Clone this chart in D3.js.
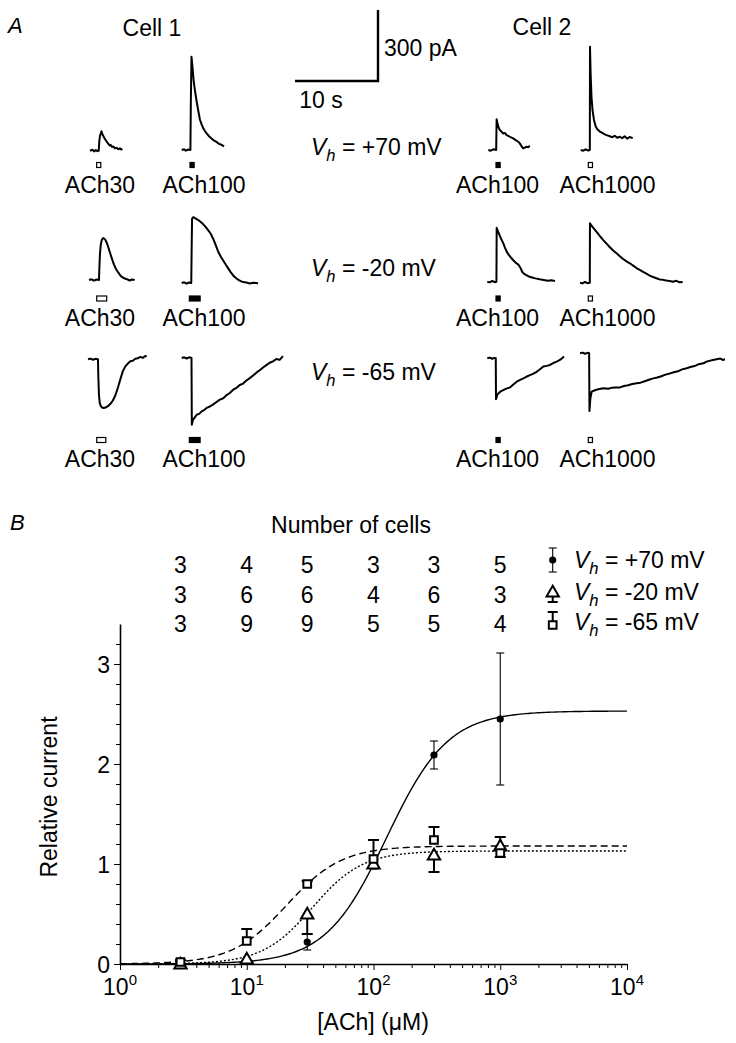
<!DOCTYPE html>
<html>
<head>
<meta charset="utf-8">
<script src="https://cdn.jsdelivr.net/npm/d3@7"></script>
<style>
  body { margin: 0; background: #fff; }
  text { font-family: "Liberation Sans", Arial, sans-serif; fill: #000; }
</style>
</head>
<body>
<svg id="fig" width="736" height="1043"></svg>
<script>
// ---------- panel A: current traces, [time (s), current (pA)] ----------
const c1r1a = [[0,0],[0.3,4],[0.5,-3],[0.7,3],[0.9,-2],[1.05,0],[1.12,40],[1.2,62],[1.3,72],[1.38,82],[1.5,70],[1.6,62],[1.75,52],[1.9,44],[2.05,36],[2.2,30],[2.35,22],[2.5,24],[2.65,16],[2.8,18],[3.0,10],[3.2,12],[3.4,6],[3.6,10],[3.75,5],[3.9,8]];
const c1r1b = [[0,0],[0.3,3],[0.5,-3],[0.8,2],[1.05,0],[1.1,200],[1.18,394],[1.3,350],[1.45,290],[1.6,250],[1.8,205],[2.0,165],[2.2,128],[2.4,108],[2.6,92],[2.8,80],[3.0,70],[3.3,58],[3.6,48],[3.9,40],[4.2,34],[4.5,26],[4.8,22],[5.1,15]];
const c1r2a = [[0,0],[0.3,3],[0.6,-3],[0.9,2],[1.2,0],[1.26,60],[1.32,110],[1.42,150],[1.55,170],[1.7,177],[1.85,175],[2.0,168],[2.2,152],[2.4,130],[2.6,108],[2.8,86],[3.0,66],[3.2,50],[3.4,38],[3.6,28],[3.8,18],[4.0,12],[4.3,6],[4.6,3],[4.9,-2],[5.2,2],[5.5,0]];
const c1r2b = [[0,0],[0.3,3],[0.6,-3],[0.9,2],[1.15,0],[1.2,150],[1.25,272],[1.4,278],[1.7,272],[2.0,266],[2.3,258],[2.6,248],[2.9,236],[3.2,222],[3.5,208],[3.8,186],[4.1,160],[4.4,132],[4.7,112],[5.0,95],[5.3,78],[5.6,62],[5.9,46],[6.2,32],[6.5,22],[6.8,14],[7.1,8],[7.4,4],[7.8,2],[8.2,-2],[8.6,1],[9.2,-1]];
const c1r3a = [[0,0],[0.3,3],[0.6,-2],[0.9,2],[1.2,0],[1.25,-80],[1.32,-150],[1.42,-185],[1.55,-198],[1.7,-204],[1.9,-206],[2.1,-204],[2.4,-198],[2.7,-188],[3.0,-174],[3.3,-152],[3.6,-120],[3.9,-84],[4.2,-50],[4.5,-30],[4.8,-18],[5.1,-8],[5.4,-6],[5.7,2],[6.0,4],[6.3,10],[6.6,6],[6.9,14],[7.07,12]];
const c1r3b = [[0,0],[0.3,3],[0.6,-2],[0.9,3],[1.18,0],[1.22,-282],[1.35,-262],[1.6,-250],[1.8,-240],[2.1,-236],[2.4,-226],[2.7,-220],[3.0,-211],[3.4,-205],[3.8,-196],[4.2,-186],[4.6,-176],[5.0,-170],[5.4,-157],[5.8,-148],[6.2,-134],[6.6,-126],[7.0,-114],[7.4,-108],[7.8,-95],[8.2,-85],[8.6,-74],[9.0,-62],[9.4,-52],[9.8,-40],[10.2,-30],[10.6,-20],[11.0,-14],[11.4,-4],[11.8,-8],[12.2,8]];
const c2r1a = [[0,0],[0.3,-3],[0.6,3],[0.95,0],[1.0,130],[1.15,105],[1.3,90],[1.45,82],[1.6,77],[1.8,70],[2.0,72],[2.2,63],[2.4,60],[2.6,56],[2.8,52],[3.0,49],[3.2,44],[3.4,40],[3.6,35],[3.8,28],[4.0,16],[4.2,7],[4.4,10],[4.6,14],[4.8,12],[5.0,18]];
const c2r1b = [[0,0],[0.3,-3],[0.6,3],[0.9,-2],[1.1,0],[1.12,436],[1.2,320],[1.3,225],[1.42,170],[1.6,127],[1.8,100],[2.0,88],[2.3,78],[2.6,72],[2.9,66],[3.2,62],[3.5,58],[3.8,54],[4.1,60],[4.4,52],[4.7,56],[5.0,50],[5.3,58],[5.6,48],[5.9,55],[6.27,50]];
const c2r2a = [[0,0],[0.3,-3],[0.6,3],[0.9,-2],[1.1,0],[1.13,228],[1.3,212],[1.5,195],[1.7,178],[1.93,162],[2.15,142],[2.35,126],[2.55,115],[2.75,106],[3.0,96],[3.25,86],[3.5,78],[3.75,72],[4.0,58],[4.2,42],[4.4,34],[4.7,28],[5.0,22],[5.4,18],[5.8,14],[6.3,10],[6.8,7],[7.3,4],[7.7,6],[8.16,3]];
const c2r2b = [[0,0],[0.3,-3],[0.6,3],[0.9,-2],[1.18,0],[1.2,251],[1.6,232],[2.0,215],[2.4,197],[2.8,180],[3.2,165],[3.6,150],[4.0,136],[4.4,124],[4.8,112],[5.2,100],[5.6,90],[6.0,82],[6.4,72],[6.8,62],[7.2,54],[7.6,46],[8.0,38],[8.4,30],[8.8,24],[9.2,19],[9.6,14],[10.0,12],[10.4,9],[10.8,7],[11.2,4],[11.6,8],[12.0,2],[12.37,3]];
const c2r3a = [[0,0],[0.3,3],[0.6,-2],[0.85,2],[1.02,0],[1.05,-173],[1.2,-155],[1.35,-148],[1.6,-140],[1.93,-134],[2.3,-128],[2.73,-123],[3.1,-112],[3.54,-99],[3.9,-92],[4.34,-85],[4.7,-78],[5.14,-71],[5.5,-66],[5.95,-57],[6.35,-46],[6.75,-35],[7.15,-32],[7.55,-28],[7.95,-20],[8.36,-14],[8.8,-6],[9.24,8]];
const c2r3b = [[0,0],[0.3,3],[0.6,-2],[0.9,2],[1.1,0],[1.14,-244],[1.25,-190],[1.41,-162],[1.8,-156],[2.2,-152],[2.81,-148],[3.4,-150],[3.8,-146],[4.3,-145],[4.82,-144],[5.3,-138],[5.8,-135],[6.3,-130],[6.83,-127],[7.3,-124],[7.8,-118],[8.3,-112],[8.83,-106],[9.3,-102],[9.8,-97],[10.3,-90],[10.84,-85],[11.3,-80],[11.8,-76],[12.3,-68],[12.85,-63],[13.3,-58],[13.8,-54],[14.3,-46],[14.86,-42],[15.2,-36],[15.6,-32],[16.0,-28],[16.47,-25],[16.9,-22],[17.2,-28],[17.47,-25]];

const traces = [c1r1a, c1r1b, c1r2a, c1r2b, c1r3a, c1r3b, c2r1a, c2r1b, c2r2a, c2r2b, c2r3a, c2r3b];
const drugLabels = ["ACh30","ACh100","ACh30","ACh100","ACh30","ACh100","ACh100","ACh1000","ACh100","ACh1000","ACh100","ACh1000"];
// ACh application: start (s), duration (s), filled bar?
const stimStart = [0.8, 1.0, 0.93, 0.92, 1.05, 0.92, 0.93, 0.92, 1.05, 1.0, 1.05, 1.0];
const stimDur   = [0.5, 0.5, 1.2, 1.3, 1.1, 1.3, 0.5, 0.5, 0.5, 0.5, 0.5, 0.5];
const stimFill  = [false, true, false, true, false, true, true, false, true, false, true, false];
const traceRow  = [0, 0, 1, 1, 2, 2, 0, 0, 1, 1, 2, 2];
const vhValues  = ["+70", "-20", "-65"];
const cellNames = ["Cell 1", "Cell 2"];
const scaleBarSec = 10, scaleBarPA = 300;

// ---------- panel B: concentration-response ----------
const conc = [3, 10, 30, 100, 300, 1000];
const mean70 = [0.0, 0.03, 0.22, 1.0, 2.09, 2.45];
const err70  = [0.01, 0.02, 0.08, 0.05, 0.14, 0.66];
const mean20 = [0.0, 0.05, 0.50, 1.0, 1.09, 1.18];
const err20  = [0.01, 0.02, 0.20, 0.03, 0.17, 0.09];
const mean65 = [0.02, 0.23, 0.80, 1.05, 1.24, 1.11];
const err65  = [0.02, 0.12, 0.03, 0.19, 0.13, 0.04];
const n70 = [3, 4, 5, 3, 3, 5];
const n20 = [3, 6, 6, 4, 6, 3];
const n65 = [3, 9, 9, 5, 5, 4];
// Hill fits: Imax, EC50 (uM), Hill coefficient
const fitMax  = [2.53, 1.13, 1.18];
const fitEC50 = [127, 33, 20.7];
const fitHill = [1.8, 2.2, 2.0];
const xTickExp = [0, 1, 2, 3, 4];
const yTicks = [0, 1, 2, 3];

// ---------- layout ----------
const svg = d3.select("#fig");
const FS = 23;
const pxPerSec = 8.3, pxPerPA = 71 / 300;
const traceX0 = [90, 181.7, 89, 181.7, 88, 181.7, 488.3, 580.7, 487.3, 580, 487.3, 580];
const traceY0 = [150.7, 150, 280, 283, 359.3, 358, 150, 150, 281.7, 282.7, 358.3, 353.3];
const labelX  = [100, 204, 100, 204, 100, 204, 497.5, 607.5, 497.5, 607.5, 497.5, 607.5];
const rowStimY  = [165, 298.5, 440];
const rowLabelY = [193, 326, 467];
const rowVhY    = [155, 276, 380];

svg.append("text").attr("x", 8).attr("y", 33).style("font-size", "22px").style("font-style", "italic").text("A");
svg.append("text").attr("x", 152).attr("y", 36).attr("text-anchor", "middle").style("font-size", FS + "px").text(cellNames[0]);
svg.append("text").attr("x", 542).attr("y", 35).attr("text-anchor", "middle").style("font-size", FS + "px").text(cellNames[1]);

// scale bar
const sbx = d3.scaleLinear().domain([0, scaleBarSec]).range([295, 295 + scaleBarSec * pxPerSec]);
const sby = d3.scaleLinear().domain([0, scaleBarPA]).range([81, 81 - scaleBarPA * pxPerPA]);
svg.append("path")
  .attr("d", `M${sbx(0)},${sby(0)}H${sbx(scaleBarSec)}V${sby(scaleBarPA)}`)
  .attr("fill", "none").attr("stroke", "#000").attr("stroke-width", 2.4);
svg.append("text").attr("x", 321).attr("y", 108).attr("text-anchor", "middle").style("font-size", FS + "px").text("10 s");
svg.append("text").attr("x", 384).attr("y", 56).style("font-size", FS + "px").text("300 pA");

function vhText(x, y, val, size) {
  const t = svg.append("text").attr("x", x).attr("y", y).style("font-size", size + "px");
  t.append("tspan").text("V").style("font-style", "italic");
  t.append("tspan").text("h").style("font-style", "italic").style("font-size", (size * 0.72) + "px").attr("dy", size * 0.28);
  t.append("tspan").text(" = " + val + " mV").attr("dy", -size * 0.28);
}
vhValues.forEach((v, i) => vhText(311, rowVhY[i], v, FS));

traces.forEach((tr, i) => {
  const x = d3.scaleLinear().domain([0, 1]).range([traceX0[i], traceX0[i] + pxPerSec]);
  const y = d3.scaleLinear().domain([0, 1]).range([traceY0[i], traceY0[i] - pxPerPA]);
  const line = d3.line().x(d => x(d[0])).y(d => y(d[1]));
  svg.append("path").datum(tr).attr("d", line)
    .attr("fill", "none").attr("stroke", "#000").attr("stroke-width", 2).attr("stroke-linejoin", "round");
  const r = traceRow[i];
  svg.append("rect")
    .attr("x", x(stimStart[i])).attr("y", rowStimY[r] - 2.5)
    .attr("width", x(stimStart[i] + stimDur[i]) - x(stimStart[i])).attr("height", 5)
    .attr("fill", stimFill[i] ? "#000" : "#fff").attr("stroke", "#000").attr("stroke-width", 1.2);
  svg.append("text").attr("x", labelX[i]).attr("y", rowLabelY[r]).attr("text-anchor", "middle")
    .style("font-size", FS + "px").text(drugLabels[i]);
});

// ---------- panel B ----------
svg.append("text").attr("x", 10).attr("y", 530).style("font-size", "22px").style("font-style", "italic").text("B");
svg.append("text").attr("x", 351).attr("y", 533).attr("text-anchor", "middle").style("font-size", FS + "px").text("Number of cells");

const x = d3.scaleLog().domain([1, 1e4]).range([120, 627]);
const y = d3.scaleLinear().domain([0, 3.4]).range([964, 624]);

// cell counts table
[n70, n20, n65].forEach((row, r) => {
  svg.append("g").selectAll("text").data(row).join("text")
    .attr("x", (d, i) => x(conc[i])).attr("y", [573, 603, 632][r])
    .attr("text-anchor", "middle").style("font-size", FS + "px").text(d => d);
});

// axes
const yMinor = d3.range(0, 17).map(i => i * 0.2);
svg.append("g").attr("transform", "translate(120,0)")
  .call(d3.axisLeft(y).tickValues(yMinor).tickSize(4).tickFormat("").tickSizeOuter(0))
  .call(g => g.select(".domain").attr("stroke-width", 1.6));
svg.append("g").attr("transform", "translate(120,0)")
  .call(d3.axisLeft(y).tickValues(yTicks).tickSize(6).tickPadding(4).tickFormat(d3.format("d")))
  .call(g => g.select(".domain").remove())
  .call(g => g.selectAll("text").style("font-size", FS + "px").attr("font-family", null).attr("dy", "0.36em"));

const xMinor = [];
xTickExp.slice(0, -1).forEach(e => d3.range(2, 10).forEach(m => xMinor.push(m * 10 ** e)));
svg.append("g").attr("transform", "translate(0,964)")
  .call(d3.axisBottom(x).tickValues(xMinor).tickSize(4).tickFormat("").tickSizeOuter(0))
  .call(g => g.select(".domain").attr("stroke-width", 1.6));
svg.append("g").attr("transform", "translate(0,964)")
  .call(d3.axisBottom(x).tickValues(xTickExp.map(e => 10 ** e)).tickSize(6).tickFormat(""))
  .call(g => g.select(".domain").remove());
xTickExp.forEach(e => {
  const t = svg.append("text").attr("x", x(10 ** e)).attr("y", 995).attr("text-anchor", "middle").style("font-size", FS + "px");
  t.append("tspan").text("10");
  t.append("tspan").text(e).style("font-size", "15px").attr("dy", -10);
});
svg.append("text").attr("x", 373).attr("y", 1030).attr("text-anchor", "middle").style("font-size", FS + "px").text("[ACh] (μM)");
svg.append("text").attr("transform", "translate(57,797) rotate(-90)").attr("text-anchor", "middle")
  .style("font-size", FS + "px").text("Relative current");

// fitted curves
const curveDash = [null, "2,2", "7,4"];
const xs = d3.range(0, 4.001, 0.02).map(e => 10 ** e);
fitMax.forEach((m, k) => {
  const pts = xs.map(c => [c, m / (1 + Math.pow(fitEC50[k] / c, fitHill[k]))]);
  svg.append("path").datum(pts)
    .attr("d", d3.line().x(d => x(d[0])).y(d => y(d[1])))
    .attr("fill", "none").attr("stroke", "#000").attr("stroke-width", 1.4)
    .attr("stroke-dasharray", curveDash[k]);
});

// error bars: dir 0 = both sides, 1 = up, -1 = down
const dir70 = [0, 0, 0, 0, 0, 0];
const dir20 = [-1, -1, -1, -1, -1, 1];
const dir65 = [1, 1, 1, 1, 1, -1];
const series = [
  { mean: mean70, err: err70, dir: dir70, w: 1.1, cap: 4 },
  { mean: mean20, err: err20, dir: dir20, w: 2, cap: 5.5 },
  { mean: mean65, err: err65, dir: dir65, w: 2, cap: 5.5 }
];
function errBar(g, cx, m, e, d, w, cap) {
  const top = d >= 0 ? m + e : m, bot = d <= 0 ? m - e : m;
  g.append("line").attr("x1", cx).attr("x2", cx).attr("y1", y(top)).attr("y2", y(bot)).attr("stroke", "#000").attr("stroke-width", w);
  if (d >= 0) g.append("line").attr("x1", cx - cap).attr("x2", cx + cap).attr("y1", y(top)).attr("y2", y(top)).attr("stroke", "#000").attr("stroke-width", w);
  if (d <= 0) g.append("line").attr("x1", cx - cap).attr("x2", cx + cap).attr("y1", y(bot)).attr("y2", y(bot)).attr("stroke", "#000").attr("stroke-width", w);
}
const gErr = svg.append("g");
series.forEach(s => s.mean.forEach((m, i) => errBar(gErr, x(conc[i]), m, s.err[i], s.dir[i], s.w, s.cap)));

const triSym = d3.symbol(d3.symbolTriangle, 66);
const sqSym = d3.symbol(d3.symbolSquare, 60);
function marker(g, k, cx, cy) {
  if (k === 0) g.append("circle").attr("cx", cx).attr("cy", cy).attr("r", 3.6).attr("fill", "#000");
  else g.append("path").attr("d", (k === 1 ? triSym : sqSym)()).attr("transform", `translate(${cx},${cy + (k === 1 ? 1 : 0)})`)
    .attr("fill", "#fff").attr("stroke", "#000").attr("stroke-width", 2);
}
const gMark = svg.append("g");
series.forEach((s, k) => s.mean.forEach((m, i) => marker(gMark, k, x(conc[i]), y(m))));

// legend
const legY = [560, 592, 622];
const legSx = 552.7;
const gLeg = svg.append("g");
gLeg.append("line").attr("x1", legSx).attr("x2", legSx).attr("y1", legY[0] - 12).attr("y2", legY[0] + 12).attr("stroke", "#000").attr("stroke-width", 1.1);
[legY[0] - 12, legY[0] + 12].forEach(yy => gLeg.append("line").attr("x1", legSx - 4).attr("x2", legSx + 4).attr("y1", yy).attr("y2", yy).attr("stroke", "#000").attr("stroke-width", 1.1));
gLeg.append("line").attr("x1", legSx).attr("x2", legSx).attr("y1", legY[1]).attr("y2", legY[1] + 10).attr("stroke", "#000").attr("stroke-width", 2);
gLeg.append("line").attr("x1", legSx - 5).attr("x2", legSx + 5).attr("y1", legY[1] + 10).attr("y2", legY[1] + 10).attr("stroke", "#000").attr("stroke-width", 2);
gLeg.append("line").attr("x1", legSx).attr("x2", legSx).attr("y1", legY[2]).attr("y2", legY[2] - 10).attr("stroke", "#000").attr("stroke-width", 2);
gLeg.append("line").attr("x1", legSx - 5).attr("x2", legSx + 5).attr("y1", legY[2] - 10).attr("y2", legY[2] - 10).attr("stroke", "#000").attr("stroke-width", 2);
[0, 1, 2].forEach(k => marker(gLeg, k, legSx, legY[k] + (k === 2 ? 3 : 0)));
vhValues.forEach((v, k) => vhText(574, legY[k] + 8, v, FS));
</script>
</body>
</html>
